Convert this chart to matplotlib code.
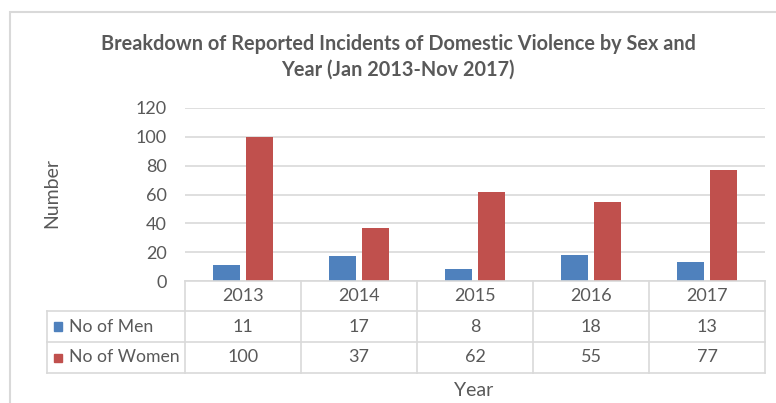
import matplotlib
matplotlib.use("Agg")
import matplotlib.pyplot as plt
import matplotlib.transforms as mtransforms
from matplotlib.lines import Line2D
from matplotlib.patches import Rectangle

# Datos del gráfico
years = ["2013", "2014", "2015", "2016", "2017"]
men = [11, 17, 8, 18, 13]
women = [100, 37, 62, 55, 77]
series_names = ["No of Men", "No of Women"]
yticks = [0, 20, 40, 60, 80, 100, 120]

BLUE = "#4F81BD"
RED = "#C0504D"
GRID = "#D9D9D9"
TEXT = "#595959"
FONT = ["Lato", "DejaVu Sans"]

W, H = 776, 403
fig = plt.figure(figsize=(W / 100, H / 100), dpi=100)
plt.rcParams["font.family"] = FONT


def fx(px):
    return px / W


def fy(py):
    return 1 - py / H


# Borde del gráfico (solo se ven los lados izquierdo y superior)
fig.add_artist(Rectangle((fx(10), fy(420)), 1.2, fy(12) - fy(420), transform=fig.transFigure,
                         fill=False, edgecolor=GRID, linewidth=1.5))

# Área de trazado
ax = fig.add_axes([fx(185), fy(281), fx(765) - fx(185), fy(108) - fy(281)])
x = list(range(len(years)))
width = 0.225
offset = 0.142
ax.bar([i - offset for i in x], men, width, color=BLUE, zorder=3)
ax.bar([i + offset for i in x], women, width, color=RED, zorder=3)
ax.set_xlim(-0.5, len(years) - 0.5)
ax.set_ylim(0, 120)
ax.set_yticks(yticks)
ax.set_xticks([])
ax.grid(axis="y", color=GRID, linewidth=1.2, zorder=0)
for s in ax.spines.values():
    s.set_visible(False)
ax.tick_params(axis="y", length=0, pad=13, labelsize=13, labelcolor=TEXT)

# Tabla de datos bajo el eje
trans = mtransforms.blended_transform_factory(ax.transData, fig.transFigure)
row_y = [281, 311, 342, 373]
left_px = 47


def hline(x0, x1, py, tr):
    fig.add_artist(Line2D([x0, x1], [fy(py), fy(py)], transform=tr, color=GRID, linewidth=1.2))


def vline(xv, py0, py1, tr):
    fig.add_artist(Line2D([xv, xv], [fy(py0), fy(py1)], transform=tr, color=GRID, linewidth=1.2))


hline(-0.5, len(years) - 0.5, row_y[0], trans)
for py in row_y[1:]:
    hline(fx(left_px), fx(765), py, fig.transFigure)
for i in range(len(years) + 1):
    vline(i - 0.5, row_y[0], row_y[3], trans)
vline(fx(left_px), row_y[1], row_y[3], fig.transFigure)

for i, yr in enumerate(years):
    fig.text(i, fy((row_y[0] + row_y[1]) / 2), yr, transform=trans, ha="center", va="center",
             fontsize=13, color=TEXT)
    fig.text(i, fy((row_y[1] + row_y[2]) / 2), str(men[i]), transform=trans, ha="center",
             va="center", fontsize=13, color=TEXT)
    fig.text(i, fy((row_y[2] + row_y[3]) / 2), str(women[i]), transform=trans, ha="center",
             va="center", fontsize=13, color=TEXT)

for j, (name, col) in enumerate(zip(series_names, [BLUE, RED])):
    yc = (row_y[j + 1] + row_y[j + 2]) / 2
    fig.add_artist(Rectangle((fx(54), fy(yc + 4)), fx(8), fy(yc - 4) - fy(yc + 4),
                             transform=fig.transFigure, color=col))
    fig.text(fx(69), fy(yc), name, ha="left", va="center", fontsize=12.7, color=TEXT)

# Títulos
fig.text(fx(398), fy(44), "Breakdown of Reported Incidents of Domestic Violence by Sex and",
         ha="center", va="center", fontsize=14.3, fontweight="bold", color=TEXT)
fig.text(fx(398), fy(70), "Year (Jan 2013-Nov 2017)",
         ha="center", va="center", fontsize=14.3, fontweight="bold", color=TEXT)
fig.text(fx(474), fy(390), "Year", ha="center", va="center", fontsize=14, color=TEXT)
fig.text(fx(52), fy(193), "Number", ha="center", va="center", rotation=90, fontsize=14, color=TEXT)

fig.savefig("out.png", dpi=100)
